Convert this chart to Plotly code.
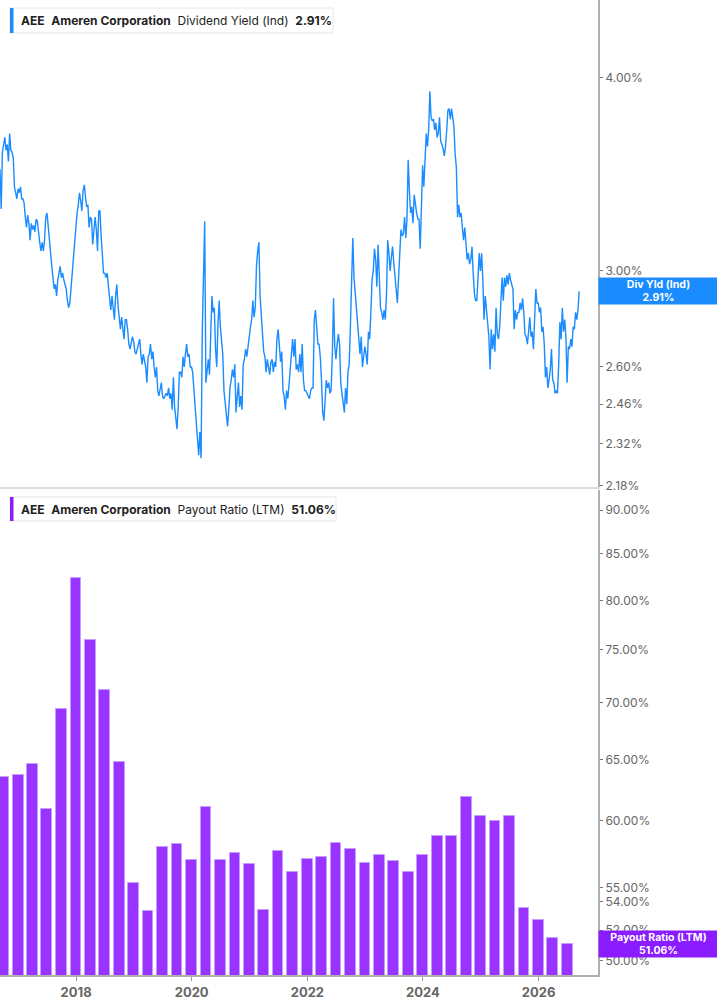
import pandas as pd
import numpy as np
import plotly.graph_objects as go
from plotly.subplots import make_subplots

# ---------------- data ----------------
ticker = "AEE"
company = "Ameren Corporation"
yield_name = "Dividend Yield (Ind)"
payout_name = "Payout Ratio (LTM)"
yield_last = 2.91
payout_last = 51.06

# dividend yield (%), evenly spaced samples (~weekly), Sep 2016 -> Sep 2026
yield_start = "2016-09-07"
yield_end = "2026-09-14"
yield_vals = [
    3.49, 3.29, 3.58, 3.62, 3.66, 3.59, 3.62, 3.53, 3.68, 3.59,
    3.58, 3.55, 3.40, 3.37, 3.34, 3.39, 3.37, 3.40, 3.34, 3.34,
    3.32, 3.25, 3.20, 3.26, 3.22, 3.14, 3.22, 3.19, 3.21, 3.18,
    3.24, 3.23, 3.17, 3.13, 3.09, 3.13, 3.09, 3.14, 3.25, 3.27,
    3.21, 3.13, 3.08, 3.02, 2.97, 2.92, 2.94, 2.89, 2.96, 2.99,
    3.02, 2.97, 2.99, 2.96, 2.94, 2.92, 2.87, 2.84, 2.86, 2.93,
    2.99, 3.08, 3.14, 3.19, 3.27, 3.31, 3.37, 3.33, 3.28, 3.38,
    3.41, 3.35, 3.30, 3.31, 3.20, 3.25, 3.24, 3.12, 3.20, 3.25,
    3.19, 3.09, 3.28, 3.28, 3.16, 3.06, 2.99, 2.99, 2.97, 2.99,
    2.93, 2.89, 2.83, 2.89, 2.85, 2.79, 2.89, 2.94, 2.85, 2.79,
    2.75, 2.80, 2.76, 2.71, 2.79, 2.79, 2.75, 2.69, 2.67, 2.69,
    2.72, 2.70, 2.66, 2.65, 2.67, 2.68, 2.71, 2.65, 2.61, 2.65,
    2.63, 2.60, 2.54, 2.64, 2.65, 2.69, 2.63, 2.66, 2.60, 2.56,
    2.60, 2.51, 2.49, 2.52, 2.54, 2.49, 2.48, 2.49, 2.50, 2.49,
    2.52, 2.48, 2.50, 2.44, 2.56, 2.45, 2.40, 2.37, 2.45, 2.58,
    2.58, 2.56, 2.64, 2.60, 2.65, 2.69, 2.64, 2.65, 2.60, 2.60,
    2.58, 2.52, 2.47, 2.42, 2.36, 2.28, 2.36, 2.27, 2.74, 2.99,
    3.23, 2.54, 2.58, 2.63, 2.57, 2.77, 2.89, 2.82, 2.84, 2.67,
    2.60, 2.77, 2.87, 2.76, 2.71, 2.65, 2.51, 2.46, 2.41, 2.38,
    2.44, 2.52, 2.55, 2.59, 2.56, 2.61, 2.43, 2.50, 2.54, 2.45,
    2.49, 2.44, 2.61, 2.63, 2.67, 2.64, 2.69, 2.72, 2.76, 2.79,
    2.87, 2.80, 2.84, 3.02, 3.09, 3.13, 2.89, 2.80, 2.72, 2.66,
    2.64, 2.58, 2.63, 2.59, 2.57, 2.62, 2.63, 2.58, 2.62, 2.60,
    2.71, 2.75, 2.68, 2.62, 2.66, 2.51, 2.49, 2.44, 2.51, 2.48,
    2.53, 2.59, 2.65, 2.71, 2.64, 2.71, 2.59, 2.61, 2.58, 2.65,
    2.58, 2.69, 2.55, 2.51, 2.51, 2.50, 2.49, 2.48, 2.51, 2.52,
    2.52, 2.79, 2.83, 2.76, 2.69, 2.69, 2.64, 2.55, 2.43, 2.40,
    2.48, 2.55, 2.52, 2.54, 2.50, 2.51, 2.65, 2.88, 2.68, 2.63,
    2.69, 2.73, 2.69, 2.54, 2.50, 2.46, 2.43, 2.52, 2.46, 2.58,
    2.61, 2.76, 2.93, 3.15, 2.97, 2.90, 2.86, 2.77, 2.71, 2.65,
    2.72, 2.60, 2.64, 2.68, 2.65, 2.61, 2.74, 2.71, 2.82, 2.96,
    3.00, 3.10, 3.05, 2.93, 3.12, 2.93, 2.84, 2.82, 2.79, 2.83,
    2.79, 2.90, 3.14, 3.08, 3.00, 3.06, 3.11, 3.04, 2.96, 2.92,
    2.86, 2.99, 3.11, 3.19, 3.16, 3.17, 3.25, 3.15, 3.24, 3.54,
    3.38, 3.27, 3.30, 3.22, 3.36, 3.30, 3.27, 3.24, 3.24, 3.10,
    3.35, 3.51, 3.40, 3.54, 3.68, 3.61, 3.70, 3.92, 3.77, 3.75,
    3.76, 3.70, 3.74, 3.66, 3.68, 3.77, 3.64, 3.62, 3.60, 3.56,
    3.61, 3.70, 3.81, 3.82, 3.76, 3.82, 3.75, 3.72, 3.57, 3.50,
    3.25, 3.31, 3.25, 3.27, 3.20, 3.14, 3.20, 3.11, 3.05, 3.08,
    3.03, 3.05, 3.11, 2.99, 2.90, 2.87, 2.87, 2.97, 3.08, 3.00,
    3.08, 2.96, 2.79, 2.89, 2.82, 2.75, 2.72, 2.59, 2.75, 2.67,
    2.73, 2.66, 2.84, 2.73, 2.71, 2.76, 2.86, 2.97, 2.87, 2.97,
    2.93, 2.98, 2.94, 2.99, 2.96, 2.94, 2.92, 2.75, 2.83, 2.79,
    2.82, 2.82, 2.86, 2.83, 2.88, 2.82, 2.73, 2.72, 2.69, 2.74,
    2.80, 2.72, 2.74, 2.67, 2.84, 2.92, 2.86, 2.86, 2.82, 2.84,
    2.74, 2.76, 2.69, 2.56, 2.60, 2.52, 2.55, 2.59, 2.67, 2.55,
    2.54, 2.50, 2.51, 2.50, 2.61, 2.78, 2.71, 2.84, 2.74, 2.79,
    2.72, 2.54, 2.68, 2.67, 2.71, 2.68, 2.76, 2.75, 2.82, 2.79,
    2.83, 2.91,
]

# payout ratio (%), quarterly, Q3 2016 -> Q2 2026
payout_start = "2016-09-30"
payout_vals = [
    63.5, 63.7, 64.6, 60.9, 69.4, 82.4, 76.0, 71.2, 64.8, 55.3,
    53.3, 58.0, 58.2, 57.0, 61.1, 57.0, 57.5, 56.7, 53.4, 57.7,
    56.1, 57.1, 57.2, 58.3, 57.8, 56.8, 57.4, 56.9, 56.1, 57.4,
    58.8, 58.8, 61.9, 60.4, 60.0, 60.4, 53.5, 52.7, 51.5, 51.06,
]

yield_ticks = [4.00, 3.00, 2.60, 2.46, 2.32, 2.18]
payout_ticks = [90, 85, 80, 75, 70, 65, 60, 55, 54, 52, 50]

yield_dates = pd.date_range(yield_start, yield_end, periods=len(yield_vals))
payout_dates = pd.date_range(payout_start, periods=len(payout_vals), freq="QE")

# ---------------- style ----------------
W, H = 717, 1005
L, R, T, B = 0, 119, 0, 30
PW = W - L - R          # 598
PH = H - T - B          # 975
BLUE = "#1a8cff"
PURPLE = "#9933ff"
PURPLE_DARK = "#8a1cff"
FONT = "Inter"


def px_x(p):
    return p / PW


def px_y(p):
    return (PH - p) / PH


fig = make_subplots(rows=2, cols=1, shared_xaxes=False, vertical_spacing=0.0)

fig.add_trace(go.Scatter(x=yield_dates, y=yield_vals, mode="lines",
                         line=dict(color=BLUE, width=1.4), showlegend=False,
                         hoverinfo="skip"), row=1, col=1)
fig.add_trace(go.Bar(x=payout_dates, y=payout_vals, width=68 * 86400000,
                     marker=dict(color=PURPLE, line=dict(color="#c89bff", width=1)),
                     showlegend=False, hoverinfo="skip"), row=2, col=1)

xrange = ["2016-09-07", "2027-01-11"]
top_dom = [px_y(487), 1.0]
bot_dom = [0.0, px_y(490)]

fig.update_layout(
    width=W, height=H,
    margin=dict(l=L, r=R, t=T, b=B),
    paper_bgcolor="white", plot_bgcolor="white",
    font=dict(family=FONT, color="#555"),
    bargap=0,
    xaxis=dict(domain=[0, 1], range=xrange, type="date", showgrid=False,
               showticklabels=False, ticks="", showline=True, linecolor="#dddddd",
               linewidth=2, zeroline=False),
    yaxis=dict(domain=top_dom, type="log",
               range=[np.log10(2.1745), np.log10(4.49)],
               side="right", showgrid=False, zeroline=False,
               showline=True, linecolor="#b0b0b0", linewidth=2,
               ticks="outside", ticklen=3, tickcolor="#777", tickwidth=1,
               tickvals=yield_ticks, ticktext=[f"{v:.2f}%" for v in yield_ticks],
               tickfont=dict(size=12, color="#666", family=FONT)),
    xaxis2=dict(domain=[0, 1], range=xrange, type="date", showgrid=False,
                showline=True, linecolor="#b0b0b0", linewidth=2,
                ticks="outside", ticklen=4, tickcolor="#999",
                tick0="2018-01-01", dtick="M24", tickformat="<b>%Y</b>",
                tickfont=dict(size=13, color="#666", family=FONT),
                zeroline=False),
    yaxis2=dict(domain=bot_dom, type="log",
                range=[np.log10(49.05), np.log10(92.4)],
                side="right", showgrid=False, zeroline=False,
                showline=True, linecolor="#b0b0b0", linewidth=2,
                ticks="outside", ticklen=3, tickcolor="#777", tickwidth=1,
                tickvals=payout_ticks, ticktext=[f"{v:.2f}%" for v in payout_ticks],
                tickfont=dict(size=12, color="#666", family=FONT)),
)

# legend boxes
shapes = []
annots = []
for (y0, y1, x1, col, txt) in [
    (8, 33, 333, BLUE,
     f"<b>{ticker}</b>  <b>{company}</b>  {yield_name}  <b>{yield_last:.2f}%</b>"),
    (497, 521, 336, PURPLE_DARK,
     f"<b>{ticker}</b>  <b>{company}</b>  {payout_name}  <b>{payout_last:.2f}%</b>"),
]:
    shapes.append(dict(type="rect", xref="paper", yref="paper",
                       x0=px_x(10), x1=px_x(x1), y0=px_y(y1), y1=px_y(y0),
                       line=dict(color="#e6e6e6", width=1), fillcolor="white", layer="above"))
    shapes.append(dict(type="rect", xref="paper", yref="paper",
                       x0=px_x(10), x1=px_x(13.5), y0=px_y(y1), y1=px_y(y0),
                       line=dict(width=0), fillcolor=col, layer="above"))
    annots.append(dict(xref="paper", yref="paper", x=px_x(19), y=px_y((y0 + y1) / 2),
                       xanchor="left", yanchor="middle", showarrow=False, text=txt,
                       font=dict(size=12, color="#222", family=FONT)))

# right-side value labels
annots.append(dict(xref="paper", yref="y", x=1.0, y=np.log10(yield_last),
                   xanchor="left", yanchor="middle", showarrow=False,
                   text=f"<b>Div Yld (Ind)<br>{yield_last:.2f}%</b>",
                   bgcolor=BLUE, width=115, height=22, borderpad=2,
                   font=dict(size=10.5, color="white", family=FONT)))
annots.append(dict(xref="paper", yref="y2", x=1.0, y=np.log10(payout_last),
                   xanchor="left", yanchor="middle", showarrow=False,
                   text=f"<b>{payout_name}<br>{payout_last:.2f}%</b>",
                   bgcolor=PURPLE_DARK, width=115, height=22, borderpad=2,
                   font=dict(size=10.5, color="white", family=FONT)))

fig.update_layout(shapes=shapes, annotations=annots)

fig.write_html("out.html",
               config={"displayModeBar": False},
               post_script="document.body.style.margin='0';document.body.style.overflow='hidden';")
